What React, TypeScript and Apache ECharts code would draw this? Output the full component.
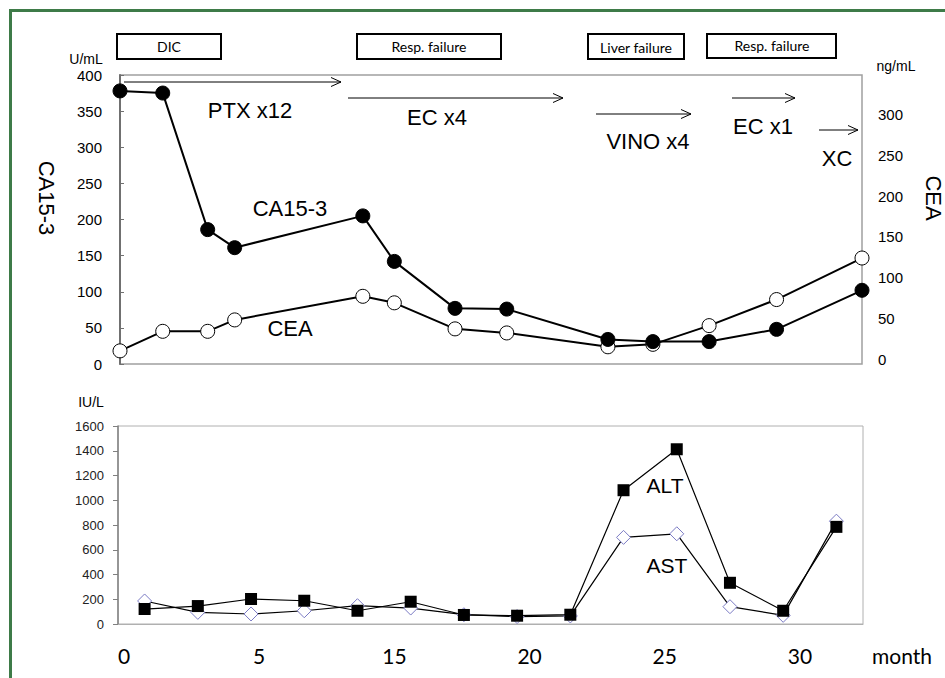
import React, { useEffect, useRef } from "react";
import * as echarts from "echarts";

// ---- data ----
const topMonths = [0, 1.9, 3.9, 5.1, 10.8, 12.2, 14.9, 17.2, 21.7, 23.7, 26.2, 29.2, 33];
const ca153 = [378, 375, 186, 161, 205, 142, 77, 76, 34, 31, 31, 48, 102];
const cea = [10, 34, 34, 48, 77, 69, 37, 32, 15, 18, 41, 73, 124];

const visits = ["1", "2", "3", "4", "5", "6", "7", "8", "9", "10", "11", "12", "13", "14"];
const alt = [121, 145, 202, 188, 107, 180, 73, 67, 75, 1081, 1412, 333, 107, 785];
const ast = [186, 94, 81, 107, 148, 129, 75, 60, 65, 700, 729, 140, 70, 831];

const monthLabels = ["0", "5", "15", "20", "25", "30"];
const eventLabels = ["DIC", "Resp. failure", "Liver failure", "Resp. failure"];
const regimenLabels = ["PTX x12", "EC x4", "VINO x4", "EC x1", "XC"];

const SANS = "Liberation Sans, Arial, sans-serif";
const HUMAN = "Lato, Noto Sans, sans-serif";

function arrow(x1: number, x2: number, y: number) {
  return [
    { type: "line", shape: { x1, y1: y, x2, y2: y }, style: { stroke: "#000", lineWidth: 1 } },
    {
      type: "polyline",
      shape: { points: [[x2 - 10, y - 4.5], [x2, y], [x2 - 10, y + 4.5]] },
      style: { stroke: "#000", lineWidth: 1, fill: null },
    },
  ];
}

function txt(text: string, x: number, y: number, size: number, family = SANS, rotation = 0) {
  return {
    type: "text",
    x,
    y,
    rotation,
    style: { text, fontSize: size, fontFamily: family, fill: "#000", align: "center", verticalAlign: "middle" },
  };
}

function box(x: number, y: number, w: number, h: number, label: string, tx: number, ty: number) {
  return [
    { type: "rect", shape: { x, y, width: w, height: h }, style: { fill: "#fff", stroke: "#000", lineWidth: 2 } },
    txt(label, tx, ty, 14, HUMAN),
  ];
}

const plain = (v: number) => String(v);

export default function App() {
  const ref = useRef<HTMLDivElement>(null);
  useEffect(() => {
    const chart = echarts.init(ref.current!, null, { renderer: "svg" });
    const option: any = {
      animation: false,
      backgroundColor: "#fff",
      grid: [
        { left: 120, top: 75, width: 742, height: 289, show: true, borderColor: "#a0a0a0", borderWidth: 1.5, backgroundColor: "transparent" },
        { left: 120, top: 74, width: 742, height: 285 },
        { left: 118, top: 426, width: 745, height: 198, show: true, borderColor: "#b0b0b0", borderWidth: 1, backgroundColor: "transparent" },
        { left: 124, top: 600, width: 676, height: 42 },
      ],
      xAxis: [
        { gridIndex: 0, type: "value", min: 0, max: 33, show: false },
        { gridIndex: 1, type: "value", min: 0, max: 33, show: false },
        {
          gridIndex: 2,
          type: "category",
          data: visits,
          boundaryGap: true,
          axisLine: { show: true, lineStyle: { color: "#b0b0b0", width: 1 } },
          axisTick: { show: false },
          axisLabel: { show: false },
        },
        {
          gridIndex: 3,
          type: "category",
          data: monthLabels,
          boundaryGap: false,
          axisLine: { show: false },
          axisTick: { show: false },
          axisLabel: { fontSize: 21, fontFamily: HUMAN, color: "#000", margin: 3 },
          name: "month",
          nameLocation: "end",
          nameGap: 72,
          nameTextStyle: { fontSize: 21, fontFamily: HUMAN, color: "#000", verticalAlign: "top", padding: [3, 0, 0, 0] },
        },
      ],
      yAxis: [
        {
          gridIndex: 0,
          type: "value",
          min: 0,
          max: 400,
          interval: 50,
          axisLine: { show: true, lineStyle: { color: "#707070", width: 2 } },
          axisTick: { show: true, inside: true, length: 4, lineStyle: { color: "#707070" } },
          axisLabel: { fontSize: 15, fontFamily: SANS, color: "#000", margin: 18, formatter: plain },
          splitLine: { show: false },
        },
        {
          gridIndex: 1,
          type: "value",
          position: "right",
          min: 0,
          max: 350,
          interval: 50,
          axisLine: { show: false },
          axisTick: { show: false },
          axisLabel: { fontSize: 15, fontFamily: SANS, color: "#000", margin: 16, showMaxLabel: false, formatter: plain },
          splitLine: { show: false },
        },
        {
          gridIndex: 2,
          type: "value",
          min: 0,
          max: 1600,
          interval: 200,
          axisLine: { show: true, lineStyle: { color: "#808080", width: 1.5 } },
          axisTick: { show: true, length: 5, lineStyle: { color: "#808080" } },
          axisLabel: { fontSize: 13, fontFamily: SANS, color: "#222", margin: 14, formatter: plain },
          splitLine: { show: false },
        },
        { gridIndex: 3, type: "value", show: false },
      ],
      series: [
        {
          name: "CEA",
          type: "line",
          xAxisIndex: 1,
          yAxisIndex: 1,
          data: topMonths.map((m, i) => [m, cea[i]]),
          symbol: "circle",
          symbolSize: 14,
          lineStyle: { color: "#000", width: 2 },
          itemStyle: { color: "#fff", borderColor: "#000", borderWidth: 1 },
          z: 2,
        },
        {
          name: "CA15-3",
          type: "line",
          xAxisIndex: 0,
          yAxisIndex: 0,
          data: topMonths.map((m, i) => [m, ca153[i]]),
          symbol: "circle",
          symbolSize: 14,
          lineStyle: { color: "#000", width: 2 },
          itemStyle: { color: "#000", borderColor: "#000", borderWidth: 1 },
          z: 3,
        },
        {
          name: "AST",
          type: "line",
          xAxisIndex: 2,
          yAxisIndex: 2,
          data: ast,
          symbol: "diamond",
          symbolSize: 14,
          lineStyle: { color: "#000", width: 1.2 },
          itemStyle: { color: "#fff", borderColor: "#7a7ac4", borderWidth: 1 },
          z: 2,
        },
        {
          name: "ALT",
          type: "line",
          xAxisIndex: 2,
          yAxisIndex: 2,
          data: alt,
          symbol: "rect",
          symbolSize: 12,
          lineStyle: { color: "#000", width: 1.2 },
          itemStyle: { color: "#000" },
          z: 3,
        },
      ],
      graphic: [
        {
          type: "rect",
          shape: { x: 10.5, y: 10.5, width: 1000, height: 1000 },
          style: { fill: null, stroke: "#3e7b48", lineWidth: 3 },
          silent: true,
        },
        ...box(117, 34, 104, 25, eventLabels[0], 169, 46.5),
        ...box(357, 34, 144, 25, eventLabels[1], 429, 46.5),
        ...box(588, 34, 96, 25, eventLabels[2], 636, 47),
        ...box(707, 34, 129, 24, eventLabels[3], 772, 45.5),
        ...arrow(124, 341, 82),
        ...arrow(348, 563, 98),
        ...arrow(596, 691, 114),
        ...arrow(732, 795, 98),
        ...arrow(819, 858, 130),
        txt(regimenLabels[0], 250, 110, 22),
        txt(regimenLabels[1], 437, 117.5, 22),
        txt(regimenLabels[2], 648, 141, 22),
        txt(regimenLabels[3], 763, 126, 22),
        txt(regimenLabels[4], 837, 158, 22),
        txt("CA15-3", 290, 208, 22),
        txt("CEA", 290, 328, 22),
        txt("ALT", 665, 485, 21),
        txt("AST", 667, 565, 21),
        txt("U/mL", 86, 59, 14),
        txt("ng/mL", 896, 66, 14),
        txt("IU/L", 91, 402, 14),
        txt("CA15-3", 46, 198, 22, SANS, -Math.PI / 2),
        txt("CEA", 933, 198, 22, SANS, -Math.PI / 2),
      ],
    };
    chart.setOption(option);
    return () => chart.dispose();
  }, []);
  return (
    <div style={{ position: "fixed", left: 0, top: 0, width: 945, height: 678, background: "#fff" }}>
      <div ref={ref} style={{ width: 945, height: 678 }} />
    </div>
  );
}
